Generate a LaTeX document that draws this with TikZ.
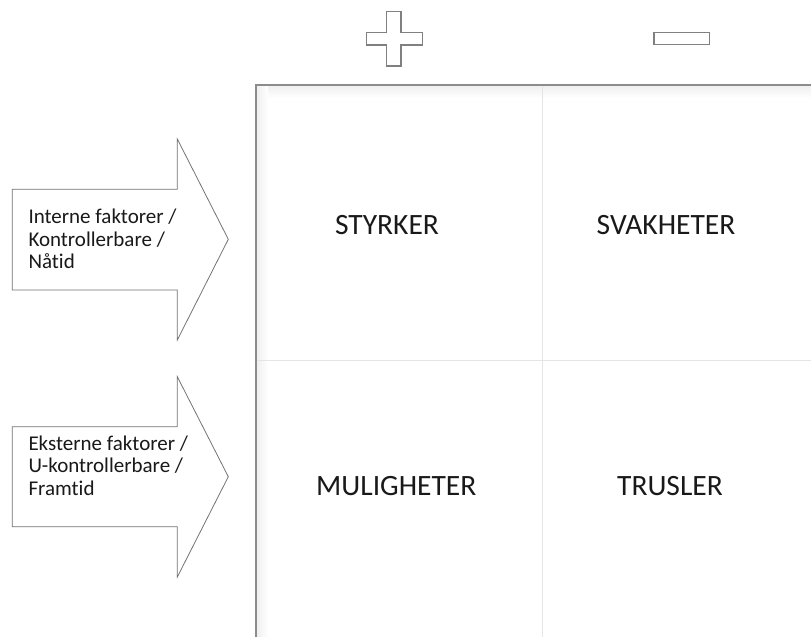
\documentclass[tikz,border=0pt]{standalone}
\usepackage{fontspec}
\setmainfont[Ligatures=NoCommon]{Carlito}
\begin{document}
\begin{tikzpicture}[x=1pt,y=-1pt,
  outline/.style={draw=black!55,line width=0.8pt,fill=white,line join=miter},
  sign/.style={draw=black!50,line width=1.2pt,fill=white},
  gridline/.style={draw=black!10,line width=1.4pt},
  frameline/.style={draw=black!45,line width=1.8pt},
  small/.style={anchor=base west,align=left,inner sep=0pt,
    font=\fontsize{21}{22.7}\selectfont,text=black!90},
  big/.style={anchor=base,inner sep=0pt,font=\fontsize{29.5}{34}\selectfont,text=black!90}]
\useasboundingbox (0,0) rectangle (811,637);
\fill[white] (0,0) rectangle (811,637);

% plus and minus signs
\draw[sign] (386.7,11.7) -- (401,11.7) -- (401,32.3) -- (422.3,32.3) -- (422.3,45)
  -- (401,45) -- (401,66) -- (386.7,66) -- (386.7,45) -- (366.7,45)
  -- (366.7,32.3) -- (386.7,32.3) -- cycle;
\draw[sign] (654,32.3) rectangle (709.3,44.7);

% faint inner shadow of the frame
\shade[top color=black!6,bottom color=white] (256,86) rectangle (811,98);
\shade[left color=black!6,right color=white] (257,86) rectangle (268,637);

% quadrant divisions
\draw[gridline] (542.7,86) -- (542.7,637);
\draw[gridline] (257,360.3) -- (811,360.3);

% frame (open to the right and bottom)
\draw[frameline] (255.7,637) -- (255.7,85) -- (811,85);

% arrows
\draw[outline] (12.3,189.3) -- (177.3,189.3) -- (177.3,139) -- (228.3,239.3)
  -- (177.3,340) -- (177.3,290) -- (12.3,290) -- cycle;
\draw[outline] (12.3,426.7) -- (177.3,426.7) -- (177.3,376.7) -- (228.3,476.7)
  -- (177.3,577) -- (177.3,526.7) -- (12.3,526.7) -- cycle;

% arrow texts (anchored at the baseline of their last line)
\node[small] (intern) at (28.3,268.7) {Interne faktorer /\\Kontrollerbare /\\Nåtid};
\node[small] (ekstern) at (28.3,495.4) {Eksterne faktorer /\\U-kontrollerbare /\\Framtid};

% quadrant labels
\node[big] (s) at (387,234.3) {STYRKER};
\node[big] (w) at (666,234.3) {SVAKHETER};
\node[big] (o) at (396.3,495) {MULIGHETER};
\node[big] (t) at (670,495) {TRUSLER};
\end{tikzpicture}
\end{document}
